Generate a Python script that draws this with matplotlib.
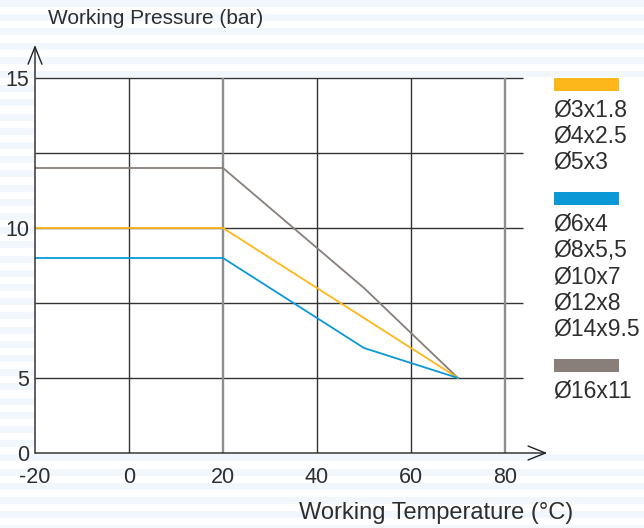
import numpy as np
import matplotlib
matplotlib.use("Agg")
import matplotlib.pyplot as plt
from matplotlib.patches import Rectangle

plt.rcParams["font.family"] = ["Liberation Sans", "DejaVu Sans"]

# data
temp_small = [-20, 20, 70]
pressure_small = [10, 10, 5]
temp_medium = [-20, 20, 50, 70]
pressure_medium = [9, 9, 6, 5]
temp_large = [-20, 20, 50, 70]
pressure_large = [12, 12, 8, 5]

x_ticks = [-20, 0, 20, 40, 60, 80]
y_ticks = [0, 5, 10, 15]
y_grid = [5, 7.5, 10, 12.5, 15]
x_grid = [0, 20, 40, 60, 80]

sizes_small = ["Ø3x1.8", "Ø4x2.5", "Ø5x3"]
sizes_medium = ["Ø6x4", "Ø8x5,5", "Ø10x7", "Ø12x8", "Ø14x9.5"]
sizes_large = ["Ø16x11"]

ORANGE, BLUE, GREY = "#FDB71A", "#0A98D6", "#887F7A"
TXT = "#2e2e2e"
W, H = 644, 528


def fig_xy(px, py):
    return px / W, 1 - py / H


# the 0-5 band is drawn at half the scale of the rest
def fwd(y):
    y = np.asarray(y, dtype=float)
    return np.where(y < 5, 2.5 + 0.5 * y, y)


def inv(t):
    t = np.asarray(t, dtype=float)
    return np.where(t < 5, (t - 2.5) * 2, t)


fig = plt.figure(figsize=(W / 100, H / 100), dpi=100)
fig.patch.set_facecolor("white")

# faint striped background, white behind plot + legend
for k in range(40):
    y0 = k * 14.2
    x, y = fig_xy(0, y0 + 7)
    fig.patches.append(Rectangle((x, y), 1, 7 / H, transform=fig.transFigure,
                                 facecolor="#f1f7fc", edgecolor="none", zorder=-20))
x, y = fig_xy(35, 453)
fig.patches.append(Rectangle((x, y), 1 - x, (453 - 77) / H, transform=fig.transFigure,
                             facecolor="white", edgecolor="none", zorder=-10))

l, b = fig_xy(35, 453)
r, t = fig_xy(552, 42)
ax = fig.add_axes([l, b, r - l, t - b])
ax.set_facecolor("none")
ax.set_yscale("function", functions=(fwd, inv))
ax.set_xlim(-20, 90)
ax.set_ylim(0, 16.2)
for s in ax.spines.values():
    s.set_visible(False)

ax.hlines(y_grid, -20, 83.8, color="#333333", lw=1.0, zorder=1)
for xv in x_grid:
    grey = xv in (20, 80)
    ax.vlines(xv, 0, 15, color="#8e8e8e" if grey else "#333333",
              lw=1.7 if grey else 1.0, zorder=1)

ax.plot(temp_large, pressure_large, color=GREY, lw=1.3, zorder=3)
ax.plot(temp_small, pressure_small, color=ORANGE, lw=1.3, zorder=3)
ax.plot(temp_medium, pressure_medium, color=BLUE, lw=1.3, zorder=3)

arrow = dict(arrowstyle="->,head_length=1.25,head_width=0.5", lw=1.0,
             color="#222222", shrinkA=0, shrinkB=0)
ax.annotate("", xy=(89, 0), xytext=(-20, 0), arrowprops=arrow, annotation_clip=False)
ax.annotate("", xy=(-20, 16.1), xytext=(-20, 0), arrowprops=arrow, annotation_clip=False)

ax.set_xticks(x_ticks, [str(v) for v in x_ticks])
ax.set_yticks(y_ticks, [str(v) for v in y_ticks])
ax.yaxis.set_minor_locator(matplotlib.ticker.NullLocator())
ax.tick_params(axis="both", length=0, labelsize=15.5, labelcolor=TXT)
ax.tick_params(axis="x", pad=10)
ax.tick_params(axis="y", pad=4)

x, y = fig_xy(48, 18)
fig.text(x, y, "Working Pressure (bar)", fontsize=15, color=TXT, ha="left", va="center")
x, y = fig_xy(436, 513)
fig.text(x, y, "Working Temperature (°C)", fontsize=17, color=TXT, ha="center", va="center")

# legend
y_rect = 84.5
for color, labels in [(ORANGE, sizes_small), (BLUE, sizes_medium), (GREY, sizes_large)]:
    x, y = fig_xy(554, y_rect + 6.5)
    fig.patches.append(Rectangle((x, y), 65 / W, 13 / H, transform=fig.transFigure,
                                 facecolor=color, edgecolor="none"))
    for i, lab in enumerate(labels):
        x, y = fig_xy(553, y_rect + 25.5 + 26.2 * i)
        fig.text(x, y, lab, fontsize=16.5, color=TXT, ha="left", va="center")
    y_rect += 25 + 26.2 * (len(labels) - 1) + 37

fig.savefig("out.png", dpi=100)
